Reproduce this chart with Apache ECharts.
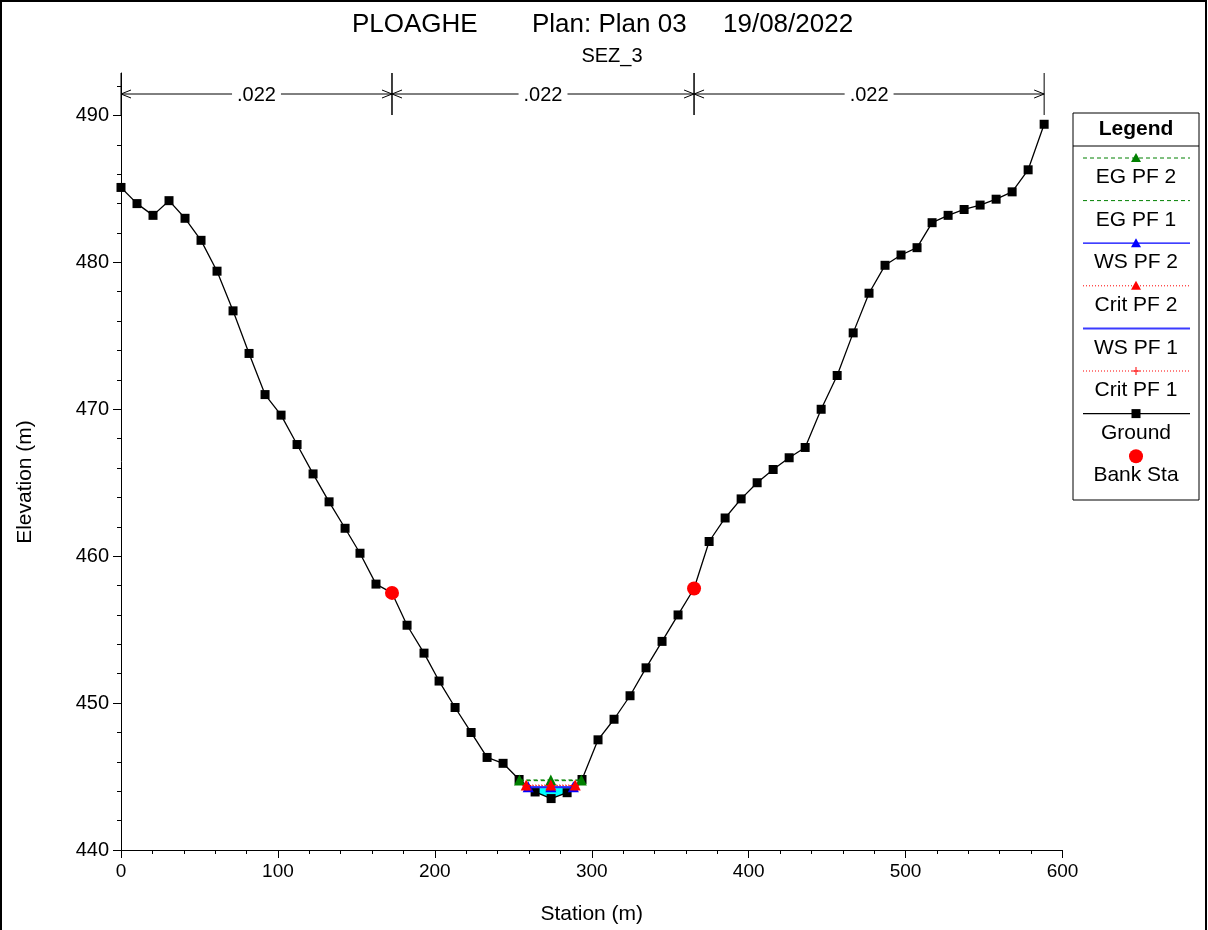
<!DOCTYPE html>
<html><head><meta charset="utf-8">
<script src="https://cdn.jsdelivr.net/npm/echarts@6/dist/echarts.min.js"></script>
<style>html,body{margin:0;padding:0;background:#fff}#c{width:1208px;height:930px}</style>
</head><body><div id="c"></div>
<script>
// ---------- DATA ----------
const groundStation = [0, 10.2, 20.4, 30.6, 40.8, 51.0, 61.2, 71.4, 81.6, 91.8, 102.0, 112.2, 122.4, 132.6, 142.8, 152.3, 162.5, 172.7, 182.3, 193.1, 202.7, 212.9, 223.1, 233.3, 243.5, 253.7, 263.9, 274.1, 284.3, 293.8, 304.0, 314.2, 324.4, 334.6, 344.8, 355.0, 365.2, 374.8, 385.0, 395.2, 405.4, 415.6, 425.8, 436.0, 446.2, 456.4, 466.6, 476.7, 486.9, 497.1, 507.3, 516.9, 527.1, 537.3, 547.5, 557.7, 567.9, 578.1, 588.3];
const groundElev = [485.1, 484.0, 483.2, 484.2, 483.0, 481.5, 479.4, 476.7, 473.8, 471.0, 469.6, 467.6, 465.6, 463.7, 461.9, 460.2, 458.1, 457.5, 455.3, 453.4, 451.5, 449.7, 448.0, 446.3, 445.9, 444.8, 443.95, 443.5, 443.9, 444.8, 447.5, 448.9, 450.5, 452.4, 454.2, 456.0, 457.8, 461.0, 462.6, 463.9, 465.0, 465.9, 466.7, 467.4, 470.0, 472.3, 475.2, 477.9, 479.8, 480.5, 481.0, 482.7, 483.2, 483.6, 483.9, 484.3, 484.8, 486.3, 489.4];
const bankStation = [172.7, 365.2];
const bankElev = [457.5, 457.8];

// Manning's n regions
const nStart = [0, 172.7, 365.2];
const nEnd = [172.7, 365.2, 588.3];
const nValue = ['.022', '.022', '.022'];

// water surface profiles: stations (left, mid, right) and elevation
const egPF2Station = [253.9, 273.9, 293.4];   const egPF2Elev = 444.77;
const egPF1Station = [254.3, 273.9, 293.0];   const egPF1Elev = 444.72;
const wsPF2Station = [259.5, 273.9, 288.3];   const wsPF2Elev = 444.30;
const wsPF1Station = [259.9, 273.9, 287.9];   const wsPF1Elev = 444.26;
const critPF2Station = [258.2, 273.9, 289.5]; const critPF2Elev = 444.42;
const critPF1Station = [258.6, 273.9, 289.1]; const critPF1Elev = 444.38;

const xTicks = [0, 100, 200, 300, 400, 500, 600];
const yMajorTicks = [440, 450, 460, 470, 480, 490];
const yMinorTicks = [442, 444, 446, 448, 452, 454, 456, 458, 462, 464, 466, 468, 472, 474, 476, 478, 482, 484, 486, 488, 492];

const legendNames = ['EG PF 2', 'EG PF 1', 'WS PF 2', 'Crit PF 2', 'WS PF 1', 'Crit PF 1', 'Ground', 'Bank Sta'];

// ---------- STYLES ----------
const FONT = 'Liberation Sans, Arial, sans-serif';
const legendColors = ['#008000', '#008000', '#0000ff', '#ff0000', '#3b3bff', '#ff0000', '#000000', '#ff0000'];
const legendDash = [[4, 3], [4, 3], null, [1, 2], null, [1, 2], null, 'none'];
const legendWidth = [1, 1, 1.2, 1, 2, 1, 1.3, 0];
const legendMarker = ['triangle', 'none', 'triangle', 'triangle', 'none', 'plus', 'rect', 'circle'];

const pair = (xs, z) => xs.map(x => [x, z]);
const plusPath = 'path://M0,4.4h10v1.2h-10z M4.4,0h1.2v10h-1.2z';

const chart = echarts.init(document.getElementById('c'), null, {renderer: 'canvas'});

function wsLine(name, xs, z, color, dash, width, symbol, size) {
  return {
    name, type: 'line', data: pair(xs, z), showAllSymbol: true,
    symbol, symbolSize: size, silent: true, animation: false, z: 3,
    lineStyle: {color, type: dash || 'solid', width},
    itemStyle: {color}
  };
}

// legend graphic
const lgX = 1073, lgY = 113, lgW = 126, lgH = 387;
const lgChildren = [
  {type: 'rect', shape: {x: lgX, y: lgY, width: lgW, height: lgH}, style: {fill: '#fff', stroke: '#000', lineWidth: 1}},
  {type: 'line', shape: {x1: lgX, y1: 146, x2: lgX + lgW, y2: 146}, style: {stroke: '#000', lineWidth: 1}},
  {type: 'text', x: lgX + lgW / 2, y: 129, style: {text: 'Legend', font: 'bold 21px ' + FONT, fill: '#000', align: 'center', verticalAlign: 'middle'}}
];
legendNames.forEach((nm, i) => {
  const ly = 158 + i * 42.6;
  const cx = lgX + lgW / 2;
  const col = legendColors[i];
  if (legendDash[i] !== 'none') {
    lgChildren.push({type: 'line', shape: {x1: 1083, y1: ly, x2: 1190, y2: ly},
      style: {stroke: col, lineWidth: legendWidth[i], lineDash: legendDash[i] || null}});
  }
  const m = legendMarker[i];
  if (m === 'triangle') lgChildren.push({type: 'polygon', shape: {points: [[cx, ly - 5], [cx - 5, ly + 4], [cx + 5, ly + 4]]}, style: {fill: col}});
  if (m === 'rect') lgChildren.push({type: 'rect', shape: {x: cx - 4.5, y: ly - 4.5, width: 9, height: 9}, style: {fill: col}});
  if (m === 'circle') lgChildren.push({type: 'circle', shape: {cx, cy: ly, r: 7}, style: {fill: col}});
  if (m === 'plus') {
    lgChildren.push({type: 'line', shape: {x1: cx - 4, y1: ly, x2: cx + 4, y2: ly}, style: {stroke: col, lineWidth: 1}});
    lgChildren.push({type: 'line', shape: {x1: cx, y1: ly - 4, x2: cx, y2: ly + 4}, style: {stroke: col, lineWidth: 1}});
  }
  lgChildren.push({type: 'text', x: cx, y: ly + 19.5, style: {text: nm, font: '21px ' + FONT, fill: '#000', align: 'center', verticalAlign: 'middle'}});
});

const option = {
  backgroundColor: '#fff',
  animation: false,
  grid: {left: 121, top: 73, width: 941.5, height: 777},
  xAxis: {
    type: 'value', min: 0, max: 600, interval: 100,
    axisLine: {lineStyle: {color: '#000', width: 1}},
    axisTick: {length: 8, lineStyle: {color: '#000'}},
    minorTick: {show: true, splitNumber: 5, length: 4, lineStyle: {color: '#000'}},
    splitLine: {show: false},
    axisLabel: {color: '#000', fontSize: 19, fontFamily: FONT, margin: 12, customValues: xTicks},
    name: 'Station (m)', nameLocation: 'middle', nameGap: 54,
    nameTextStyle: {color: '#000', fontSize: 21, fontFamily: FONT}
  },
  yAxis: [{
    type: 'value', min: 440, max: 492.89,
    axisLine: {show: true, lineStyle: {color: '#000', width: 1}},
    axisTick: {show: true, length: 8, customValues: yMajorTicks, lineStyle: {color: '#000'}},
    axisLabel: {color: '#000', fontSize: 20, fontFamily: FONT, margin: 12, customValues: yMajorTicks},
    splitLine: {show: false}
  }, {
    type: 'value', min: 440, max: 492.89, position: 'left',
    axisLine: {show: false},
    axisTick: {show: true, length: 4, customValues: yMinorTicks, lineStyle: {color: '#000'}},
    axisLabel: {show: false},
    splitLine: {show: false}
  }],
  graphic: [
    {type: 'rect', shape: {x: 1, y: 1, width: 1205, height: 940}, style: {fill: null, stroke: '#000', lineWidth: 2}, silent: true},
    {type: 'text', x: 352, y: 25, style: {text: 'PLOAGHE', font: '26px ' + FONT, fill: '#000', verticalAlign: 'middle'}},
    {type: 'text', x: 532, y: 25, style: {text: 'Plan: Plan 03', font: '26px ' + FONT, fill: '#000', verticalAlign: 'middle'}},
    {type: 'text', x: 723, y: 25, style: {text: '19/08/2022', font: '26px ' + FONT, fill: '#000', verticalAlign: 'middle'}},
    {type: 'text', x: 612, y: 56, style: {text: 'SEZ_3', font: '20px ' + FONT, fill: '#000', align: 'center', verticalAlign: 'middle'}},
    {type: 'text', x: 25, y: 482, rotation: Math.PI / 2, style: {text: 'Elevation (m)', font: '21px ' + FONT, fill: '#000', align: 'center', verticalAlign: 'middle'}},
    {type: 'group', children: lgChildren}
  ],
  series: [
    { // water fill (WS PF 2 down to ground)
      type: 'custom', name: 'fill', silent: true, clip: true, z: 1,
      data: [[wsPF2Station[0], wsPF2Elev]],
      renderItem: (params, api) => {
        const pts = [api.coord([wsPF2Station[0], wsPF2Elev])];
        groundStation.forEach((s, i) => {
          if (s > wsPF2Station[0] && s < wsPF2Station[2]) pts.push(api.coord([s, groundElev[i]]));
        });
        pts.push(api.coord([wsPF2Station[2], wsPF2Elev]));
        return {type: 'polygon', shape: {points: pts}, style: {fill: '#00ffff'}};
      }
    },
    {
      name: 'Ground', type: 'line', data: groundStation.map((s, i) => [s, groundElev[i]]),
      showAllSymbol: true, symbol: 'rect', symbolSize: 9, silent: true, z: 2,
      lineStyle: {color: '#000', width: 1.3}, itemStyle: {color: '#000'}
    },
    wsLine('EG PF 1', egPF1Station, egPF1Elev, '#008000', [4, 3], 1, 'none', 0),
    wsLine('EG PF 2', egPF2Station, egPF2Elev, '#008000', [4, 3], 1, 'triangle', 11),
    wsLine('WS PF 1', wsPF1Station, wsPF1Elev, '#3b3bff', null, 1.5, 'none', 0),
    wsLine('WS PF 2', wsPF2Station, wsPF2Elev, '#0000ff', null, 1, 'triangle', 11),
    wsLine('Crit PF 1', critPF1Station, critPF1Elev, '#ff0000', [1, 2], 1, plusPath, 9),
    wsLine('Crit PF 2', critPF2Station, critPF2Elev, '#ff0000', [1, 2], 1, 'triangle', 11),
    {
      name: 'Bank Sta', type: 'scatter', data: bankStation.map((s, i) => [s, bankElev[i]]), z: 6,
      symbol: 'circle', symbolSize: 14, itemStyle: {color: '#ff0000', opacity: 1}, silent: true
    },
    { // Manning's n annotations
      type: 'custom', name: 'n', silent: true, clip: false, z: 6,
      data: nStart.map((s, i) => [s, nEnd[i]]),
      renderItem: (params, api) => {
        const top = params.coordSys.y;
        const x1 = api.coord([api.value(0), 490])[0];
        const x2 = api.coord([api.value(1), 490])[0];
        const ya = top + 21;
        const st = {stroke: '#000', lineWidth: 1, fill: null};
        return {type: 'group', children: [
          {type: 'line', shape: {x1: x1, y1: top, x2: x1, y2: top + 42}, style: st},
          {type: 'line', shape: {x1: x2, y1: top, x2: x2, y2: top + 42}, style: st},
          {type: 'line', shape: {x1: x1, y1: ya, x2: x2, y2: ya}, style: st},
          {type: 'polyline', shape: {points: [[x1 + 10, ya - 4], [x1, ya], [x1 + 10, ya + 4]]}, style: st},
          {type: 'polyline', shape: {points: [[x2 - 10, ya - 4], [x2, ya], [x2 - 10, ya + 4]]}, style: st},
          {type: 'text', x: (x1 + x2) / 2, y: ya + 1, style: {text: nValue[params.dataIndex], font: '20px ' + FONT, fill: '#000',
            align: 'center', verticalAlign: 'middle', backgroundColor: '#fff', padding: [0, 5]}}
        ]};
      }
    }
  ]
};
chart.setOption(option);
</script></body></html>
